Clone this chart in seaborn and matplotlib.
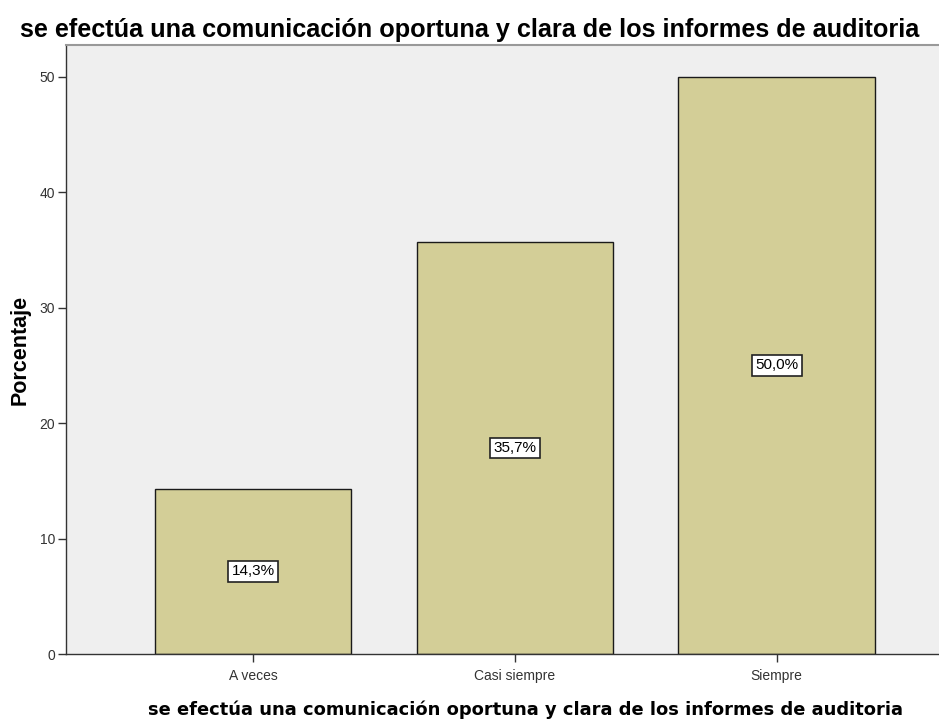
import matplotlib
matplotlib.use("Agg")
import matplotlib.pyplot as plt
import seaborn as sns
import pandas as pd

categories = ["A veces", "Casi siempre", "Siempre"]
values = [14.3, 35.7, 50.0]
labels = ["14,3%", "35,7%", "50,0%"]
yticks = [0, 10, 20, 30, 40, 50]
title = "se efectúa una comunicación oportuna y clara de los informes de auditoria"

sns.set_style("white")
plt.rcParams['font.family'] = ['Liberation Sans', 'DejaVu Sans']

df = pd.DataFrame({"cat": categories, "val": values})

fig = plt.figure(figsize=(9.39, 7.22), dpi=100)
ax = fig.add_axes([66/939, 68/722, 1 - 66/939, (654-45)/722])
ax.set_facecolor("#efefef")

sns.barplot(data=df, x="cat", y="val", ax=ax, color="#d3ce97", width=0.75,
            edgecolor="#1a1a1a", linewidth=1.0, saturation=1)

for i, (v, lab) in enumerate(zip(values, labels)):
    ax.text(i, v / 2, lab, ha="center", va="center", fontsize=11, color="black",
            bbox=dict(boxstyle="square,pad=0.22", fc="white", ec="#222222", lw=1.2))

ax.set_xlim(-0.714, 2.62)
ax.set_ylim(0, 52.77)
ax.set_yticks(yticks)
ax.set_yticklabels([str(t) for t in yticks])

ax.spines["right"].set_visible(False)
ax.spines["top"].set_color("#999999")
ax.spines["top"].set_linewidth(1.5)
ax.spines["left"].set_color("#333333")
ax.spines["bottom"].set_color("#333333")
ax.spines["left"].set_linewidth(1.0)
ax.spines["bottom"].set_linewidth(1.0)

ax.tick_params(axis="both", which="both", direction="out", length=6, width=1,
               color="#333333", labelsize=10, labelcolor="#333333", bottom=True, left=True)
ax.tick_params(axis="y", pad=2)
ax.tick_params(axis="x", pad=5)

ax.set_ylabel("Porcentaje", fontsize=15.5, fontweight="bold", va="center", color="black")
ax.yaxis.set_label_coords(-(66 - 20) / 873, (654 - 350) / 609)
ax.set_xlabel(title, fontsize=12.9, fontweight="bold", family=['DejaVu Sans'],
              va="center", color="black")
ax.xaxis.set_label_coords((526 - 66) / 873, -(710 - 654) / 609)
fig.text(0.5, 1 - 30/722, title, ha="center", va="center",
         fontsize=18.2, fontweight="bold", color="black")

fig.savefig("out.png", dpi=100)
